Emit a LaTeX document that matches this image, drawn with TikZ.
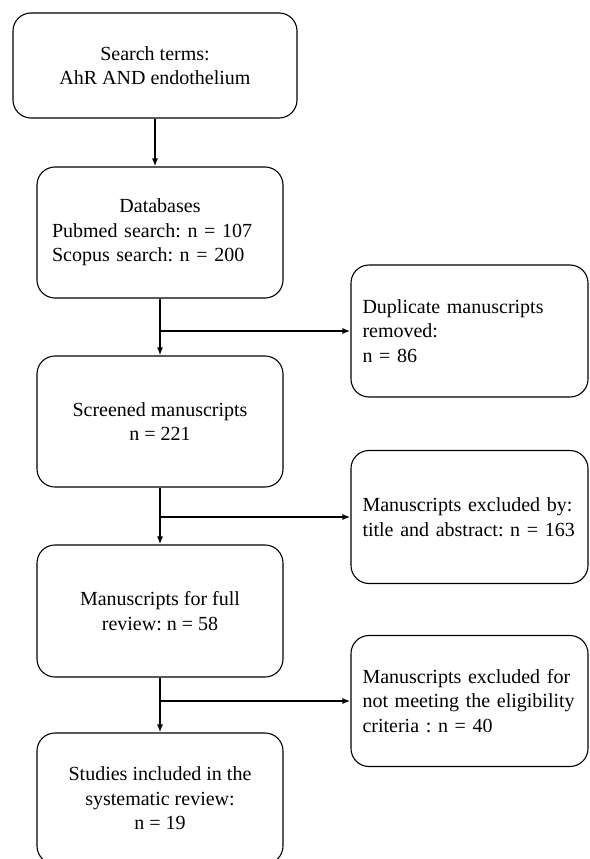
\documentclass[tikz,border=0pt]{standalone}
\usepackage{fontspec}
\setmainfont{Liberation Serif}
\frenchspacing
\usetikzlibrary{arrows.meta}
\tikzset{
	flowbox/.style = {draw, rounded corners=18pt, line width=1.1pt, minimum width=246pt, minimum height=131pt, align=center, font=\fontsize{20}{24.5}\selectfont},
	sidebox/.style = {flowbox, minimum width=237pt, text width=214pt, inner xsep=11.5pt, align=left},
	flow/.style = {line width=1.5pt, -{Latex[length=8pt,width=6pt]}}
}
\begin{document}
\begin{tikzpicture}[x=1pt,y=1pt]
	\useasboundingbox (0,0) rectangle (589,-859);
	\clip (0,0) rectangle (589,-859);
	\hyphenpenalty=10000
	\draw (155,-65.5) node[flowbox, minimum width=284pt, minimum height=105pt] (search) {Search terms:\\AhR AND endothelium};
	\draw (160,-232.5) node[flowbox, text width=216pt, inner xsep=15pt, align=left] (db) {\makebox[\hsize]{Databases}\\Pubmed search: n = 107\\Scopus search: n = 200};
	\draw (160,-421.5) node[flowbox] (screen) {Screened manuscripts\\n = 221};
	\draw (160,-611) node[flowbox, minimum height=132pt] (full) {Manuscripts for full\\review: n = 58};
	\draw (160,-798.5) node[flowbox] (incl) {Studies included in the\\systematic review:\\n = 19};
	\draw (469.5,-331) node[sidebox, minimum height=132pt] (dup) {Duplicate manuscripts\\removed:\\n = 86};
	\draw (469.5,-517) node[sidebox, minimum height=133pt] (exta) {Manuscripts excluded by:\\title and abstract: n = 163};
	\draw (469.5,-701) node[sidebox] (extb) {Manuscripts excluded for\\not meeting the eligibility\\criteria : n = 40};
	\draw[flow] (search) -- (search |- db.north);
	\draw[flow] (db) -- (screen);
	\draw[flow] (screen) -- (full);
	\draw[flow] (full) -- (incl);
	\draw[flow] (db.south |- dup.west) -- (dup.west);
	\draw[flow] (screen.south |- exta.west) -- (exta.west);
	\draw[flow] (full.south |- extb.west) -- (extb.west);
\end{tikzpicture}
\end{document}
